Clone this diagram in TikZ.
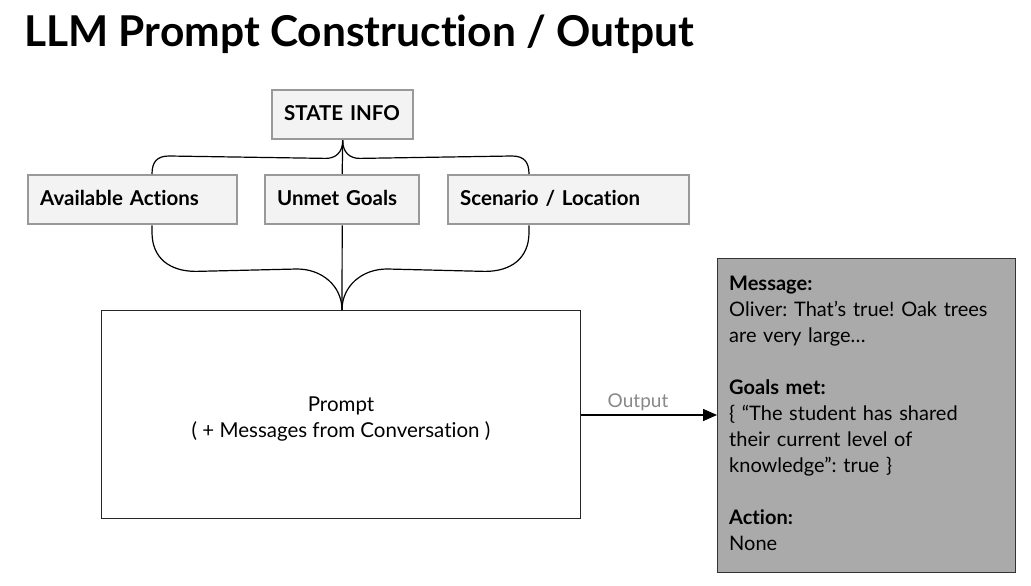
\documentclass[tikz,border=0pt]{standalone}
\usepackage{fontspec}
\setmainfont{Lato}[Ligatures={NoCommon}]
\usetikzlibrary{arrows.meta,calc}
\definecolor{boxfill}{HTML}{F3F3F3}
\definecolor{boxline}{HTML}{999999}
\definecolor{outfill}{HTML}{AAAAAA}
\definecolor{outline}{HTML}{333333}
\definecolor{lblgray}{HTML}{888888}
\tikzset{
  gbox/.style={draw=boxline, line width=2.4pt, fill=boxfill, rectangle, anchor=north west,
    minimum height=49pt, inner xsep=12pt, inner ysep=0pt, align=left,
    text height=15pt, text depth=4pt,
    font=\fontsize{20.5}{24}\selectfont\bfseries},
  brace/.style={draw=black, line width=1.2pt},
}
\begin{document}
\frenchspacing
\begin{tikzpicture}[x=1pt,y=-1pt]
\useasboundingbox (0,0) rectangle (1031,586);
\fill[white] (0,0) rectangle (1031,586);
% title
\node[anchor=base west, inner sep=0pt, font=\fontsize{42.5}{48}\selectfont\bfseries] (title) at (24,47) {LLM Prompt Construction / Output};
% boxes
\node[gbox, text width=117pt] (si) at (271,89) {STATE INFO};
\node[gbox, text width=185pt] (aa) at (27,174) {Available Actions};
\node[gbox, text width=130pt] (ug) at (264,174) {Unmet Goals};
\node[gbox, text width=217pt] (sl) at (447,174) {Scenario / Location};
% prompt box
\node[draw=black!85, line width=1.4pt, fill=white, rectangle, anchor=north west,
      minimum width=479pt, minimum height=208pt, inner sep=0pt] (pr) at (101,310) {};
\node[anchor=base, inner sep=0pt, font=\fontsize{20.5}{26}\selectfont] (prt1) at (341,411) {Prompt};
\node[anchor=base, inner sep=0pt, font=\fontsize{20.5}{26}\selectfont] (prt2) at (341,437) {( + Messages from Conversation )};
% output box
\node[draw=outline, line width=1.4pt, fill=outfill, rectangle, anchor=north west,
      minimum width=298pt, minimum height=314pt, inner sep=0pt] (out) at (717,258) {};
\node[anchor=north west, inner sep=0pt, text width=280pt, align=left,
      font=\fontsize{20}{26}\selectfont] (outtext) at (729,276)
  {\textbf{Message:}\\
   Oliver: That’s true! Oak trees\\
   are very large…\\[26pt]
   \textbf{Goals met:}\\
   \{ “The student has shared\\
   their current level of\\
   knowledge”: true \}\\[26pt]
   \textbf{Action:}\\
   None};
% top brace
\coordinate (siB) at (si.south);
\coordinate (aaT) at ($(aa.north west)+(125,0)$);
\coordinate (slT) at ($(sl.north west)+(82,0)$);
\draw[brace] (siB) -- (ug.north);
\draw[brace] (siB) .. controls ($(siB)+(0,12)$) and ($(siB)+(-7,18)$) .. ($(siB)+(-17,18)$)
  -- ($(aaT)+(17,-18)$) .. controls ($(aaT)+(5,-18)$) and ($(aaT)+(0,-12)$) .. (aaT);
\draw[brace] (siB) .. controls ($(siB)+(0,12)$) and ($(siB)+(7,18)$) .. ($(siB)+(17,18)$)
  -- ($(slT)+(-17,-18)$) .. controls ($(slT)+(-5,-18)$) and ($(slT)+(0,-12)$) .. (slT);
% bottom brace
\coordinate (aaB) at ($(aa.south west)+(125,0)$);
\coordinate (slB) at ($(sl.south west)+(82,0)$);
\coordinate (prT) at ($(pr.north west)+(241,0)$);
\draw[brace] (ug.south) -- (prT);
\draw[brace] (aaB) -- ($(aaB)+(0,7)$) .. controls ($(aaB)+(0,33)$) and ($(aaB)+(18,46)$) .. ($(aaB)+(44,46)$)
  -- ($(prT)+(-45,-41)$) .. controls ($(prT)+(-20,-41)$) and ($(prT)+(0,-24)$) .. (prT);
\draw[brace] (slB) -- ($(slB)+(0,7)$) .. controls ($(slB)+(0,33)$) and ($(slB)+(-18,46)$) .. ($(slB)+(-44,46)$)
  -- ($(prT)+(45,-41)$) .. controls ($(prT)+(20,-41)$) and ($(prT)+(0,-24)$) .. (prT);
% output arrow
\draw[line width=1.6pt, -{Triangle[length=14pt,width=12pt]}] (pr.east |- 0,415) -- (out.west |- 0,415);
\node[anchor=base, text=lblgray, font=\fontsize{19}{22}\selectfont, inner sep=0pt] (olbl) at (638,407) {Output};
\end{tikzpicture}
\end{document}
